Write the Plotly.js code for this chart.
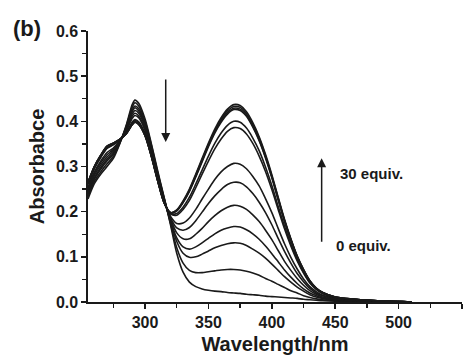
<!DOCTYPE html>
<html>
<head>
<meta charset="utf-8">
<script src="https://cdn.plot.ly/plotly-3.0.1.min.js"></script>
<style>html,body{margin:0;padding:0;background:#fff;}#chart{width:473px;height:355px;}</style>
</head>
<body>
<div id="chart"></div>
<script>
// Wavelength grid (nm)
const wavelength = [255,260,265,270,275,280,285,290,292,295,300,305,310,315,320,325,330,335,340,345,350,355,360,365,370,375,380,385,390,395,400,405,410,415,420,425,430,435,440,450,470,490,510];

// Absorbance spectra, 0 equiv. -> 30 equiv.
const eq00 = [0.228,0.262,0.283,0.300,0.318,0.350,0.390,0.438,0.447,0.440,0.405,0.350,0.290,0.232,0.172,0.108,0.066,0.044,0.034,0.029,0.026,0.024,0.023,0.021,0.020,0.019,0.017,0.016,0.015,0.013,0.012,0.011,0.010,0.009,0.008,0.006,0.005,0.004,0.003,0.002,0.001,0.000,0.000];
const eq01 = [0.233,0.267,0.288,0.306,0.322,0.351,0.388,0.432,0.441,0.434,0.400,0.347,0.287,0.231,0.175,0.120,0.086,0.070,0.065,0.065,0.067,0.069,0.071,0.072,0.072,0.071,0.068,0.064,0.059,0.052,0.046,0.039,0.032,0.025,0.020,0.014,0.010,0.007,0.005,0.003,0.002,0.000,0.000];
const eq02 = [0.238,0.272,0.294,0.312,0.327,0.353,0.385,0.426,0.434,0.428,0.395,0.343,0.284,0.229,0.179,0.134,0.108,0.099,0.100,0.106,0.113,0.120,0.125,0.129,0.131,0.130,0.125,0.117,0.108,0.097,0.084,0.070,0.056,0.044,0.033,0.024,0.016,0.011,0.008,0.004,0.002,0.001,0.000];
const eq03 = [0.241,0.275,0.298,0.316,0.330,0.354,0.384,0.422,0.430,0.423,0.392,0.340,0.282,0.228,0.181,0.142,0.122,0.117,0.122,0.131,0.141,0.151,0.159,0.164,0.167,0.166,0.160,0.151,0.139,0.124,0.107,0.089,0.071,0.055,0.041,0.029,0.020,0.014,0.009,0.005,0.002,0.001,0.000];
const eq04 = [0.245,0.280,0.303,0.321,0.334,0.355,0.382,0.417,0.424,0.418,0.388,0.337,0.280,0.226,0.184,0.153,0.140,0.140,0.150,0.163,0.178,0.191,0.202,0.210,0.214,0.212,0.205,0.193,0.178,0.159,0.138,0.114,0.090,0.070,0.052,0.037,0.025,0.017,0.011,0.006,0.003,0.001,0.000];
const eq05 = [0.250,0.284,0.308,0.326,0.338,0.356,0.379,0.412,0.418,0.412,0.383,0.334,0.277,0.225,0.187,0.164,0.159,0.165,0.180,0.199,0.218,0.235,0.249,0.260,0.265,0.264,0.255,0.240,0.221,0.198,0.171,0.141,0.112,0.086,0.063,0.045,0.030,0.020,0.014,0.007,0.003,0.001,0.000];
const eq06 = [0.254,0.288,0.312,0.331,0.341,0.357,0.378,0.407,0.413,0.408,0.380,0.331,0.275,0.224,0.190,0.174,0.175,0.186,0.205,0.228,0.250,0.271,0.288,0.300,0.307,0.305,0.295,0.278,0.257,0.229,0.198,0.163,0.129,0.099,0.073,0.051,0.034,0.023,0.015,0.008,0.004,0.001,0.000];
const eq07 = [0.260,0.295,0.320,0.340,0.348,0.359,0.374,0.399,0.404,0.399,0.373,0.325,0.271,0.221,0.195,0.192,0.205,0.225,0.253,0.283,0.312,0.339,0.361,0.378,0.386,0.384,0.372,0.351,0.323,0.289,0.249,0.205,0.162,0.124,0.091,0.064,0.042,0.028,0.019,0.010,0.005,0.002,0.000];
const eq08 = [0.262,0.297,0.321,0.341,0.349,0.359,0.374,0.397,0.402,0.397,0.371,0.325,0.270,0.221,0.196,0.196,0.210,0.232,0.261,0.292,0.323,0.351,0.374,0.391,0.400,0.398,0.385,0.363,0.335,0.299,0.258,0.212,0.168,0.128,0.094,0.066,0.043,0.029,0.019,0.010,0.005,0.002,0.000];
const eq09 = [0.264,0.299,0.324,0.344,0.351,0.360,0.372,0.394,0.399,0.394,0.369,0.323,0.269,0.220,0.197,0.202,0.220,0.245,0.277,0.310,0.344,0.374,0.398,0.416,0.426,0.424,0.411,0.387,0.357,0.319,0.275,0.226,0.179,0.137,0.100,0.070,0.046,0.030,0.021,0.011,0.005,0.002,0.000];
const eq10 = [0.264,0.299,0.324,0.344,0.351,0.360,0.372,0.394,0.399,0.394,0.369,0.323,0.268,0.220,0.198,0.202,0.221,0.246,0.278,0.313,0.346,0.376,0.401,0.419,0.429,0.427,0.413,0.390,0.359,0.321,0.277,0.228,0.180,0.138,0.100,0.071,0.046,0.030,0.021,0.011,0.005,0.002,0.000];
const eq11 = [0.265,0.300,0.325,0.345,0.352,0.360,0.372,0.393,0.398,0.393,0.368,0.322,0.268,0.220,0.198,0.203,0.222,0.248,0.281,0.315,0.349,0.379,0.404,0.423,0.433,0.431,0.417,0.393,0.363,0.324,0.279,0.230,0.181,0.139,0.101,0.071,0.047,0.031,0.021,0.011,0.005,0.002,0.000];
const eq12 = [0.265,0.300,0.325,0.345,0.352,0.360,0.372,0.393,0.398,0.393,0.368,0.322,0.268,0.220,0.198,0.204,0.224,0.250,0.283,0.318,0.352,0.383,0.408,0.427,0.437,0.435,0.421,0.397,0.366,0.327,0.282,0.232,0.183,0.140,0.102,0.072,0.047,0.031,0.021,0.011,0.005,0.002,0.000];

const spectra = [eq00,eq01,eq02,eq03,eq04,eq05,eq06,eq07,eq08,eq09,eq10,eq11,eq12];

const xTickVals = [300,350,400,450,500,550];
const yTickVals = [0.0,0.1,0.2,0.3,0.4,0.5,0.6];

const ink = '#1a1a1a';
const tickFont = {family: 'Liberation Sans, Arial, sans-serif', size: 16, color: ink, weight: 'bold'};
const titleFont = {family: 'Liberation Sans, Arial, sans-serif', size: 20, color: ink, weight: 'bold'};
const noteFont = {family: 'Liberation Sans, Arial, sans-serif', size: 15, color: ink, weight: 'bold'};

const traces = spectra.map((s) => ({
  x: wavelength, y: s, type: 'scatter', mode: 'lines',
  line: {color: ink, width: 1.6, shape: 'spline', smoothing: 0.8},
  hoverinfo: 'skip', showlegend: false
}));

const layout = {
  width: 473, height: 355,
  margin: {l: 88, r: 11, t: 31, b: 53},
  paper_bgcolor: '#fff', plot_bgcolor: '#fff',
  showlegend: false,
  xaxis: {
    range: [255, 550], tickmode: 'array', tickvals: xTickVals, ticktext: xTickVals.map(String),
    ticks: 'outside', ticklen: 5, tickwidth: 1.5, tickcolor: ink,
    minor: {tickmode: 'array', tickvals: [275,325,375,425,475,525], ticks: 'outside', ticklen: 4, tickwidth: 1.3, tickcolor: ink},
    showline: true, linecolor: ink, linewidth: 1.6, mirror: false,
    showgrid: false, zeroline: false, tickfont: tickFont,
    title: {text: 'Wavelength/nm', font: titleFont, standoff: 8}
  },
  yaxis: {
    range: [0, 0.6], tickmode: 'array', tickvals: yTickVals, ticktext: yTickVals.map(v => v.toFixed(1)),
    ticks: 'outside', ticklen: 5, tickwidth: 1.5, tickcolor: ink,
    minor: {tickmode: 'array', tickvals: [0.05,0.15,0.25,0.35,0.45,0.55], ticks: 'outside', ticklen: 4, tickwidth: 1.3, tickcolor: ink},
    showline: true, linecolor: ink, linewidth: 1.6, mirror: false,
    showgrid: false, zeroline: false, tickfont: tickFont,
    title: {text: 'Absorbabce', font: titleFont, standoff: 6}
  },
  annotations: [
    {xref: 'paper', yref: 'paper', x: -0.205, y: 1.008, xanchor: 'left', yanchor: 'middle', text: '(b)', showarrow: false, font: {family: 'Liberation Sans, Arial, sans-serif', size: 22, color: ink, weight: 'bold'}},
    {xref: 'x', yref: 'y', axref: 'x', ayref: 'y', x: 316.3, y: 0.354, ax: 316.3, ay: 0.496, text: '', showarrow: true, arrowhead: 2, arrowsize: 1.2, arrowwidth: 1.5, arrowcolor: ink},
    {xref: 'x', yref: 'y', axref: 'x', ayref: 'y', x: 439.3, y: 0.318, ax: 439.3, ay: 0.130, text: '', showarrow: true, arrowhead: 2, arrowsize: 1.2, arrowwidth: 1.5, arrowcolor: ink},
    {xref: 'x', yref: 'y', x: 452.2, y: 0.285, xanchor: 'left', yanchor: 'middle', text: '30 equiv.', showarrow: false, font: noteFont},
    {xref: 'x', yref: 'y', x: 449.0, y: 0.125, xanchor: 'left', yanchor: 'middle', text: '0 equiv.', showarrow: false, font: noteFont}
  ]
};

Plotly.newPlot('chart', traces, layout, {staticPlot: true, displayModeBar: false});
</script>
</body>
</html>
